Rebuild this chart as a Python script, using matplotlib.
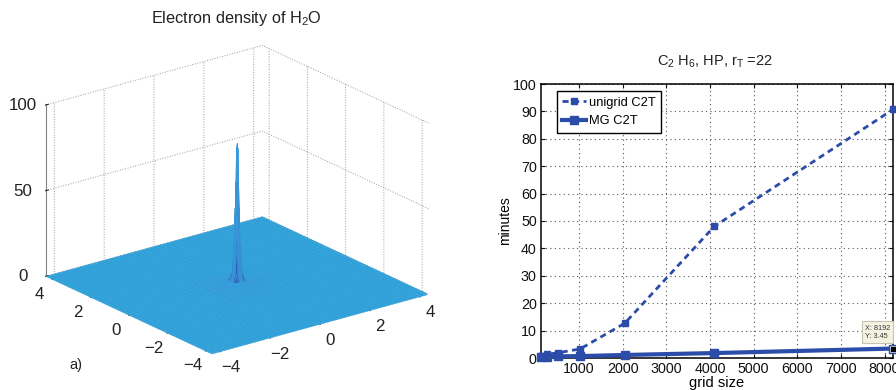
import numpy as np
import matplotlib
matplotlib.use("Agg")
import matplotlib.pyplot as plt

plt.rcParams["font.family"] = ["Liberation Sans", "DejaVu Sans"]
plt.rcParams["mathtext.fontset"] = "custom"
plt.rcParams["mathtext.rm"] = "Liberation Sans"
plt.rcParams["mathtext.default"] = "regular"

# left panel: density per square ring around the nucleus
ring_radius = [0, 0.02, 0.035, 0.05, 0.08, 0.135, 0.22, 0.34, 0.6, 1.0]
ring_density = [83, 80, 60, 45, 25, 7, 3, 1, 0.3, 0]
xy_ticks = [-4, -2, 0, 2, 4]
z_ticks = [0, 50, 100]
xy_lim = 4.35

# right panel
grid_size = [128, 256, 512, 1024, 2048, 4096, 8192]
unigrid_c2t = [0.6, 1.3, 1.9, 3.3, 12.7, 48.0, 90.7]
mg_c2t = [0.4, 0.5, 0.6, 0.7, 1.1, 1.8, 3.45]
x_ticks = [1000, 2000, 3000, 4000, 5000, 6000, 7000, 8000]
y_ticks = list(range(0, 101, 10))

FLOOR = "#36a6dc"
DARK = "#2c5fb6"
LINE = "#2b4ca8"

fig = plt.figure(figsize=(8.96, 3.9), dpi=100)

# --- a) surface ---
ax = fig.add_axes([-5.5 / 896, -10 / 390, 0.53, 1.0], projection="3d", proj_type="ortho")
ax.computed_zorder = False
ax.view_init(elev=21, azim=-127.5)
ax.set_box_aspect((272.6, 272.6, 183), zoom=1.065)
ax.set_xlim(-xy_lim, xy_lim)
ax.set_ylim(-xy_lim, xy_lim)
ax.set_zlim(0, 100)

floor_x, floor_y = np.meshgrid([-xy_lim, xy_lim], [-xy_lim, xy_lim])
ax.plot_surface(floor_x, floor_y, np.zeros((2, 2)), color=FLOOR, shade=False,
                linewidth=0, antialiased=True, zorder=1)
# fine mesh lines on the flat part
mesh = np.arange(-xy_lim, xy_lim + 0.01, 0.087)
mesh_x, mesh_y = np.meshgrid(mesh, mesh)
ax.plot_wireframe(mesh_x, mesh_y, np.zeros_like(mesh_x), rcount=100, ccount=100,
                  color="#2b94d2", linewidth=0.22, zorder=2)

# spike, on a grid that is only fine near the centre
radius = np.array(ring_radius)
coords = np.concatenate([-radius[:0:-1], radius])
rx, ry = np.meshgrid(coords, coords)
offset = np.abs(np.arange(len(coords)) - (len(radius) - 1))
ring = np.maximum(offset[None, :], offset[:, None])
density = np.array(ring_density)[ring]
to_rgba = matplotlib.colors.to_rgba
colors = np.select([(density >= 58)[..., None], (density > 1)[..., None]],
                   [np.array(to_rgba("#2f8fd8")), np.array(to_rgba(DARK))],
                   np.array(to_rgba("#33a0d8")))
ax.plot_surface(rx, ry, density, facecolors=colors, shade=False, rcount=50, ccount=50,
                edgecolor="#3a9ddc", linewidth=0.3, zorder=3)

ax.set_xticks(xy_ticks)
ax.set_yticks(xy_ticks)
ax.set_zticks(z_ticks)
ax.set_xticklabels(["\u2212" + str(-t) if t < 0 else str(t) for t in xy_ticks])
ax.set_yticklabels(["\u2212" + str(-t) if t < 0 else str(t) for t in xy_ticks])
for axis in (ax.xaxis, ax.yaxis, ax.zaxis):
    axis.set_pane_color((1, 1, 1, 0))
    axis.pane.set_edgecolor((1, 1, 1, 0))
    axis._axinfo["grid"].update(color="#9a9a9a", linestyle=":", linewidth=0.7)
    axis._axinfo["tick"].update(inward_factor=0.0, outward_factor=0.15)
ax.xaxis.line.set_color((1, 1, 1, 0))
ax.yaxis.line.set_color((1, 1, 1, 0))
ax.zaxis.line.set_color("#808080")
ax.tick_params(labelsize=12.2, pad=0.6, colors="#222222")
for label in ax.get_xticklabels() + ax.get_yticklabels() + ax.get_zticklabels():
    label.set_va("center_baseline")

fig.text(236 / 896, 1 - 18 / 390, r"Electron density of H$_2$O", ha="center", va="center",
         fontsize=11.7, color="#222222")
fig.text(76 / 896, 1 - 365 / 390, "a)", ha="center", va="center", fontsize=10.5, color="#222222")

# --- convergence curves ---
ax2 = fig.add_axes([541 / 896, 1 - 358 / 390, 352 / 896, 274 / 390])
ax2.plot(grid_size, unigrid_c2t, "--s", color=LINE, lw=2, ms=5, clip_on=False,
         dashes=(2.2, 1.6), label="unigrid C2T", zorder=3)
ax2.plot(grid_size, mg_c2t, "-s", color=LINE, lw=3, ms=5.8, clip_on=False,
         label="MG C2T", zorder=4)
ax2.set_xlim(128, 8192)
ax2.set_ylim(0, 100)
ax2.set_xticks(x_ticks)
ax2.set_yticks(y_ticks)
ax2.grid(True, linestyle=(0, (1, 3)), color="#555555", linewidth=0.8)
ax2.tick_params(direction="in", top=True, right=True, length=3, labelsize=10.3, pad=3,
                colors="#111111")
for spine in ax2.spines.values():
    spine.set_linewidth(1.1)
ax2.set_xlabel("grid size", fontsize=10.5, labelpad=0)
ax2.set_ylabel("minutes", fontsize=10, labelpad=1)
fig.text(715 / 896, 1 - 62 / 390, r"C$_2$ H$_6$, HP, r$_T$ =22", ha="center", va="center",
         fontsize=10.5, color="#222222")

ax2.legend(loc="upper left", bbox_to_anchor=(0.045, 0.973), fontsize=9.3, frameon=True,
           fancybox=False, framealpha=1, edgecolor="black", borderaxespad=0,
           handlelength=1.8, handletextpad=0.25, borderpad=0.42, labelspacing=0.5)

# data tip on the last MG point
ax2.plot([grid_size[-1]], [mg_c2t[-1]], "s", color="black", ms=4, mec="#f3f1dc", mew=0.5,
         clip_on=False, zorder=6)
ax2.annotate("X: %d\nY: %.2f" % (grid_size[-1], mg_c2t[-1]), (grid_size[-1], mg_c2t[-1]),
             xytext=(-2, 6.5), textcoords="offset points", ha="right", va="bottom",
             multialignment="left", fontsize=5.2, color="#333333", annotation_clip=False,
             zorder=7, bbox=dict(boxstyle="square,pad=0.45", fc="#f4f3e2", ec="#c4c4b4", lw=0.8))

fig.savefig("out.png", dpi=100)
